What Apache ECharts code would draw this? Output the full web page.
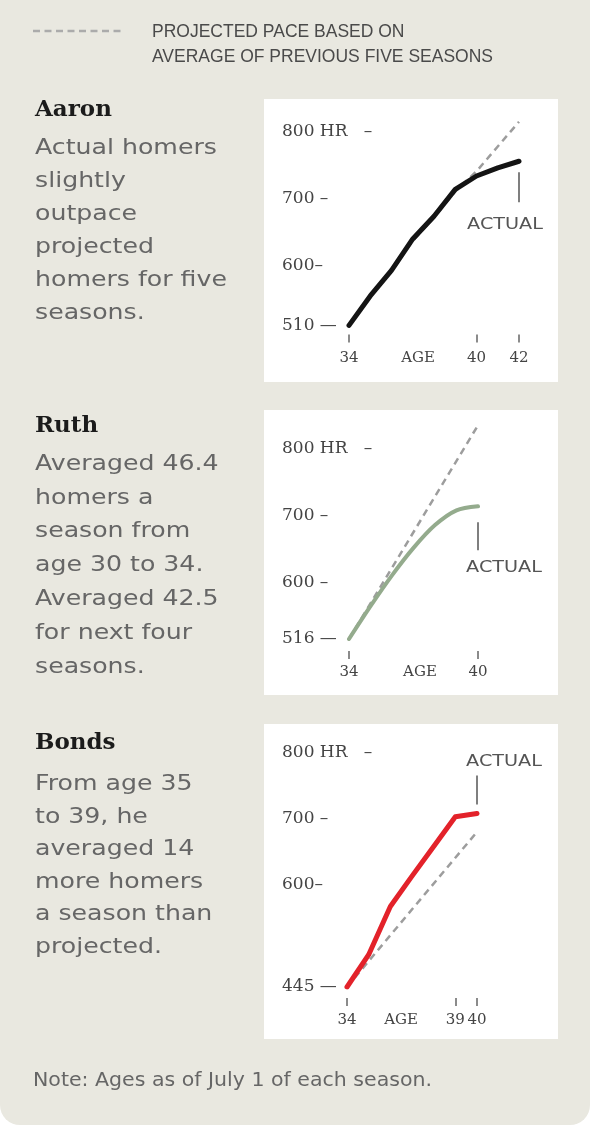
<!DOCTYPE html>
<html>
<head>
<meta charset="utf-8">
<script src="https://cdn.jsdelivr.net/npm/echarts@6/dist/echarts.min.js"></script>
<style>
  html, body { margin:0; padding:0; background:#fff; }
  #chart { width:590px; height:1125px; }
</style>
</head>
<body>
<div id="chart"></div>
<script>
// career home runs by age (as of July 1 of each season)
const agesAaron = [34, 35, 36, 37, 38, 39, 40, 41, 42]
const hrAaron = [510, 554, 592, 639, 673, 713, 733, 745, 755]
// projection runs hidden under the actual line until about age 40
const projAgesAaron = [34, 35, 36, 37, 38, 39, 40, 41, 42]
const projAaron = [510, 552, 591, 636, 671, 710, 740, 777, 814]

const agesRuth = [34, 35, 36, 37, 38, 39, 40]
const hrRuth = [516, 565, 611, 652, 686, 708, 714]
const projAgesRuth = [34, 40]
const projRuth = [516, 835]

const agesBonds = [34, 35, 36, 37, 38, 39, 40]
const hrBonds = [445, 494, 567, 613, 658, 703, 708]
const projAgesBonds = [34, 40]
const projBonds = [445, 680]

// tick values and their labels
const yTicksAaron = [510, 600, 700, 800]
const yLabelsAaron = ['510 —', '600–', '700 –', '800 HR   –']
const yTicksRuth = [516, 600, 700, 800]
const yLabelsRuth = ['516 —', '600 –', '700 –', '800 HR   –']
const yTicksBonds = [445, 600, 700, 800]
const yLabelsBonds = ['445 —', '600–', '700 –', '800 HR   –']

const xTicksAaron = [34, 40, 42]
const xTicksRuth = [34, 40]
const xTicksBonds = [34, 39, 40]
const agePosAaron = 37.25
const agePosRuth = 37.3
const agePosBonds = 36.5

const zip = (a, b) => a.map((v, i) => [v, b[i]])

const serif = '"DejaVu Serif", serif'
const sans = '"DejaVu Sans", sans-serif'

function xAxisOf(idx, min, max, ticks, agePos, offset, margin) {
  return {
    type: 'value', gridIndex: idx, min: min, max: max, offset: offset,
    axisLine: {show: false},
    splitLine: {show: false},
    axisTick: {show: true, length: 8, customValues: ticks, lineStyle: {color: '#666', width: 1.5}},
    axisLabel: {
      customValues: ticks.concat([agePos]),
      margin: margin,
      fontFamily: serif, fontSize: 15, color: '#444',
      formatter: v => v === agePos ? 'AGE' : String(v)
    }
  }
}

function yAxisOf(idx, min, max, ticks, labels, margin) {
  return {
    type: 'value', gridIndex: idx, min: min, max: max,
    axisLine: {show: false},
    axisTick: {show: false},
    splitLine: {show: false},
    axisLabel: {
      customValues: ticks,
      align: 'left', margin: margin,
      fontFamily: serif, fontSize: 17, color: '#444',
      formatter: v => labels[ticks.indexOf(v)]
    }
  }
}

function projSeries(idx, ages, vals) {
  return {
    type: 'line', xAxisIndex: idx, yAxisIndex: idx, data: zip(ages, vals),
    showSymbol: false, silent: true,
    lineStyle: {color: '#9d9d9d', width: 2.5, type: [7, 5]}
  }
}

function actualSeries(idx, ages, vals, color, width, smooth) {
  return {
    type: 'line', xAxisIndex: idx, yAxisIndex: idx, data: zip(ages, vals),
    showSymbol: false, silent: true, smooth: smooth,
    lineStyle: {color: color, width: width, cap: 'round', join: 'round'}
  }
}

let chart = echarts.init(document.getElementById('chart'))

let option = {
  animation: false,
  grid: [
    {left: 349, top: 117.7, width: 170, height: 207.7},
    {left: 349, top: 421.9, width: 129, height: 217.1},
    {left: 347, top: 746.1, width: 130, height: 240.9}
  ],
  xAxis: [
    xAxisOf(0, 34, 42, xTicksAaron, agePosAaron, 9, 16),
    xAxisOf(1, 34, 40, xTicksRuth, agePosRuth, 12, 14),
    xAxisOf(2, 34, 40, xTicksBonds, agePosBonds, 11, 15)
  ],
  yAxis: [
    yAxisOf(0, 510, 820, yTicksAaron, yLabelsAaron, 67),
    yAxisOf(1, 516, 840, yTicksRuth, yLabelsRuth, 67),
    yAxisOf(2, 445, 810, yTicksBonds, yLabelsBonds, 65)
  ],
  series: [
    projSeries(0, projAgesAaron, projAaron),
    actualSeries(0, agesAaron, hrAaron, '#141414', 5, false),
    projSeries(1, projAgesRuth, projRuth),
    actualSeries(1, agesRuth, hrRuth, '#94ab8d', 4, 0.3),
    projSeries(2, projAgesBonds, projBonds),
    actualSeries(2, agesBonds, hrBonds, '#e3222a', 5, false)
  ]
}
chart.setOption(option)

// static page furniture
function txt(x, y, text, o) {
  return {
    type: 'text', x: x, y: y, scaleX: o.scaleX || 1,
    style: {
      text: text, fill: o.color || '#666',
      font: (o.weight || 'normal') + ' ' + o.size + 'px ' + o.family,
      lineHeight: o.lineHeight || o.size * 1.2,
      align: o.align || 'left', textAlign: o.align || 'left',
      verticalAlign: o.va || 'top', textVerticalAlign: o.va || 'top'
    }
  }
}

let graphics = [
  {type: 'rect', shape: {x: 0, y: 0, width: 590, height: 1125, r: [0, 0, 20, 20]}, style: {fill: '#e9e8e0'}},
  {type: 'rect', shape: {x: 264, y: 99, width: 294, height: 283}, style: {fill: '#fff'}},
  {type: 'rect', shape: {x: 264, y: 410, width: 294, height: 285}, style: {fill: '#fff'}},
  {type: 'rect', shape: {x: 264, y: 724, width: 294, height: 315}, style: {fill: '#fff'}},
  {type: 'line', shape: {x1: 33, y1: 31, x2: 124, y2: 31}, style: {stroke: '#ababab', lineWidth: 2.5, lineDash: [7, 4.5]}},
  txt(152, 19.5, 'PROJECTED PACE BASED ON\nAVERAGE OF PREVIOUS FIVE SEASONS',
    {size: 17.5, family: '"Liberation Sans", sans-serif', color: '#4a4a4a', lineHeight: 25}),

  txt(35, 110, 'Aaron', {size: 23, family: serif, weight: 'bold', color: '#1b1b1b', va: 'middle'}),
  txt(35, 132.5, 'Actual homers\nslightly\noutpace\nprojected\nhomers for five\nseasons.',
    {size: 21, family: sans, color: '#666', lineHeight: 33, scaleX: 1.2}),

  txt(35, 426, 'Ruth', {size: 23, family: serif, weight: 'bold', color: '#1b1b1b', va: 'middle'}),
  txt(35, 447.5, 'Averaged 46.4\nhomers a\nseason from\nage 30 to 34.\nAveraged 42.5\nfor next four\nseasons.',
    {size: 21, family: sans, color: '#666', lineHeight: 33.8, scaleX: 1.2}),

  txt(35, 743, 'Bonds', {size: 23, family: serif, weight: 'bold', color: '#1b1b1b', va: 'middle'}),
  txt(35, 768.5, 'From age 35\nto 39, he\naveraged 14\nmore homers\na season than\nprojected.',
    {size: 21, family: sans, color: '#666', lineHeight: 32.5, scaleX: 1.2}),

  txt(33, 1081, 'Note: Ages as of July 1 of each season.',
    {size: 19, family: sans, color: '#666', va: 'middle', scaleX: 1.08})
]

// "ACTUAL" callouts hang off the last point of each actual line
const callouts = [
  {grid: 0, pt: [agesAaron[agesAaron.length - 1], hrAaron[hrAaron.length - 1]], l1: 11, l2: 41, ty: 64, tx: -14},
  {grid: 1, pt: [agesRuth[agesRuth.length - 1], hrRuth[hrRuth.length - 1]], l1: 16, l2: 44, ty: 62, tx: 26},
  {grid: 2, pt: [agesBonds[agesBonds.length - 1], hrBonds[hrBonds.length - 1]], l1: -38, l2: -9, ty: -52, tx: 27}
]
callouts.forEach(c => {
  let p = chart.convertToPixel({gridIndex: c.grid}, c.pt)
  graphics.push({type: 'line', shape: {x1: p[0], y1: p[1] + c.l1, x2: p[0], y2: p[1] + c.l2},
    style: {stroke: '#555', lineWidth: 1.5}})
  graphics.push(txt(p[0] + c.tx, p[1] + c.ty, 'ACTUAL',
    {size: 16, family: sans, color: '#555', align: 'center', va: 'middle', scaleX: 1.2}))
})

chart.setOption({graphic: graphics})
</script>
</body>
</html>
